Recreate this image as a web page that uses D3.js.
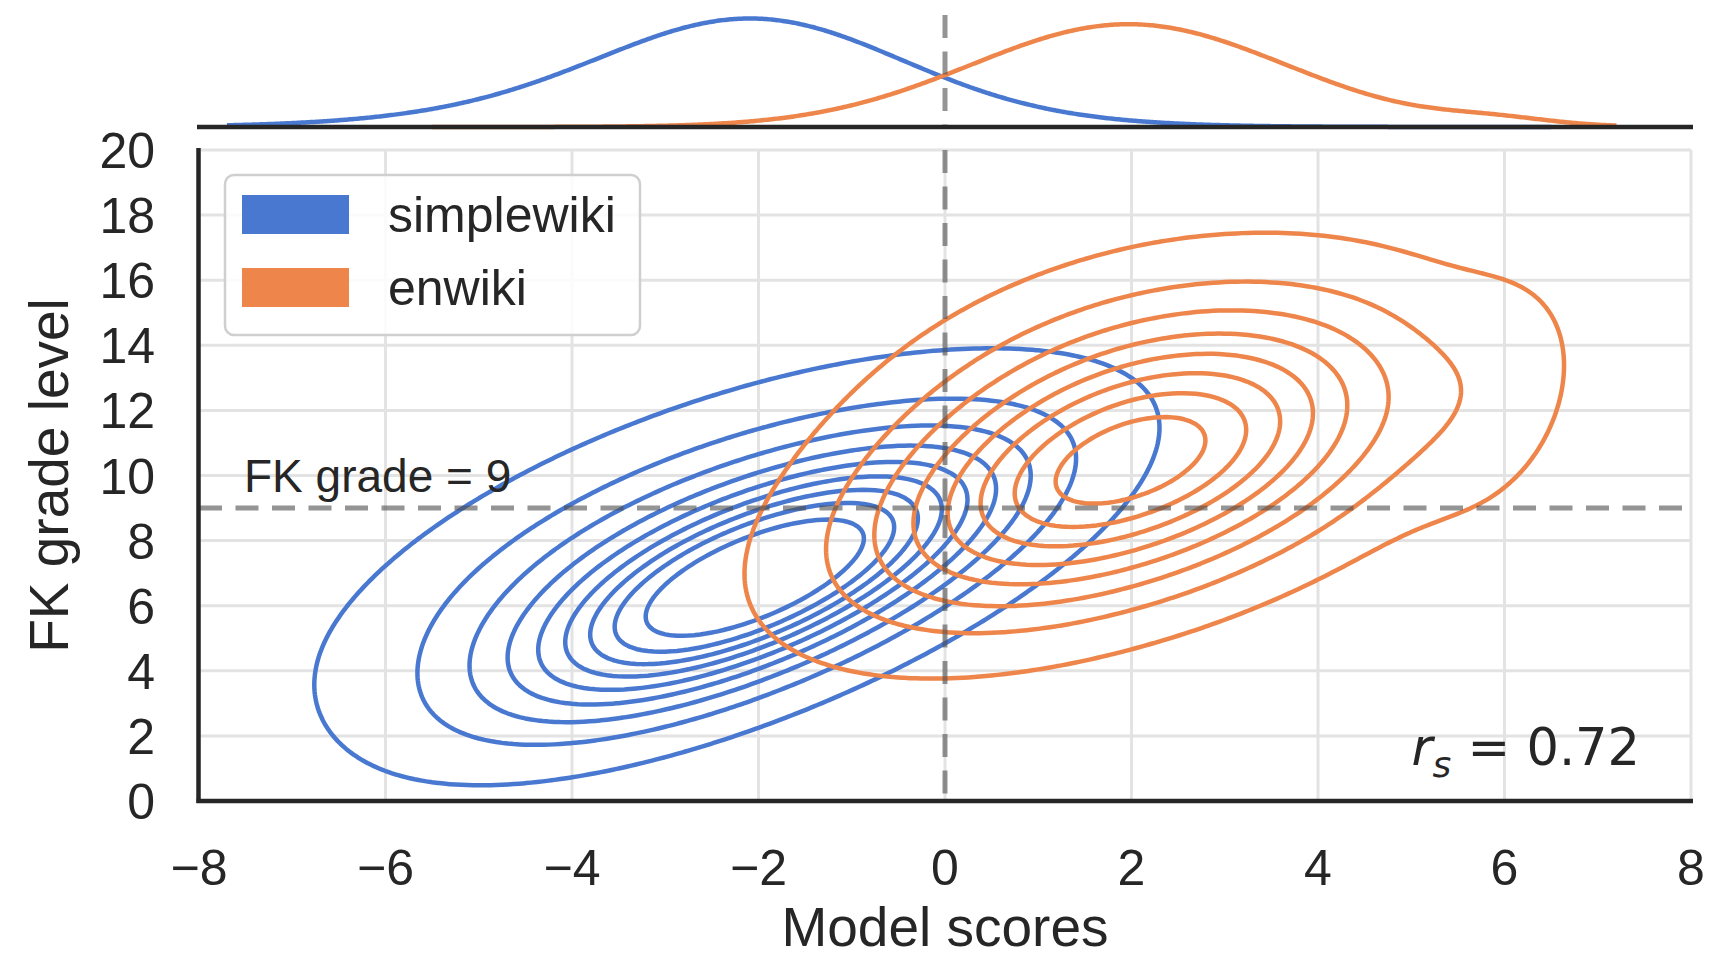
<!DOCTYPE html>
<html><head><meta charset="utf-8">
<script src="https://cdn.jsdelivr.net/npm/d3@7"></script>
<style>body{margin:0;background:#fff}svg{display:block}</style>
</head><body>
<svg id="c" width="1710" height="958"></svg>
<script>
// ---------------- data ----------------
const groups = ["simplewiki", "enwiki"];
const groupColors = ["#4878D0", "#EE854A"];
const groupShare = [0.515, 0.485];
// bivariate normal components: [weight, mean score, mean FK grade, sd score, sd FK grade, correlation]
const simplewikiComponents = [
  [0.55, -2.0, 6.7, 1.5, 2.3, 0.70],
  [0.45, -2.4, 7.6, 2.1, 3.0, 0.60]
];
const enwikiComponents = [
  [0.60, 1.7, 9.8, 1.65, 2.6, 0.50],
  [0.38, 2.4, 11.8, 1.65, 2.7, 0.25],
  [0.02, 5.9, 12.3, 0.6, 2.5, 0.30]
];
// support of the marginal curves (score range)
const simplewikiSupport = [-7.7, 6.5];
const enwikiSupport = [-5.5, 7.2];
// iso-proportion contour levels
const isoLevels = [0.05, 0.156, 0.261, 0.367, 0.472, 0.578, 0.683, 0.789, 0.894];
const xTicks = [-8, -6, -4, -2, 0, 2, 4, 6, 8];
const yTicks = [0, 2, 4, 6, 8, 10, 12, 14, 16, 18, 20];
const fkGradeLine = 9;
const scoreLine = 0;
const spearman = "0.72";
const xLabel = "Model scores";
const yLabel = "FK grade level";
const fkLabel = "FK grade = 9";

// ---------------- layout ----------------
const svg = d3.select("#c");
const x = d3.scaleLinear().domain([-8, 8]).range([199, 1691]);
const y = d3.scaleLinear().domain([0, 20]).range([801, 150]);
const ym = d3.scaleLinear().range([127, 18.5]);
const textColor = "#262626";
const fontSans = "'Liberation Sans', Arial, Helvetica, sans-serif";

// ---------------- density helpers ----------------
function dens2(comps, px, py) {
  let s = 0;
  for (const [w, mx, my, sx, sy, r] of comps) {
    const dx = (px - mx) / sx, dy = (py - my) / sy;
    const q = (dx * dx - 2 * r * dx * dy + dy * dy) / (1 - r * r);
    s += w * Math.exp(-q / 2) / (2 * Math.PI * sx * sy * Math.sqrt(1 - r * r));
  }
  return s;
}
function dens1(comps, px) {
  let s = 0;
  for (const [w, mx, , sx] of comps) {
    const d = (px - mx) / sx;
    s += w * Math.exp(-d * d / 2) / (Math.sqrt(2 * Math.PI) * sx);
  }
  return s;
}

// ---------------- grid ----------------
const gx0 = -10, gx1 = 10, gy0 = -4, gy1 = 24, nx = 321, ny = 321;
const gdx = (gx1 - gx0) / (nx - 1), gdy = (gy1 - gy0) / (ny - 1);
const compsList = [simplewikiComponents, enwikiComponents];
const grids = compsList.map((comps, gi) => {
  const a = new Float64Array(nx * ny);
  for (let j = 0; j < ny; j++) {
    const py = gy0 + j * gdy;
    for (let i = 0; i < nx; i++) {
      a[i + j * nx] = groupShare[gi] * dens2(comps, gx0 + i * gdx, py);
    }
  }
  return a;
});
function quantileToLevel(arrs, props) {
  const vals = [];
  arrs.forEach(a => { for (const v of a) vals.push(v); });
  vals.sort((p, q) => q - p);
  const total = d3.sum(vals);
  const cum = new Float64Array(vals.length);
  let s = 0;
  for (let i = 0; i < vals.length; i++) { s += vals[i]; cum[i] = s / total; }
  return props.map(p => {
    const idx = d3.bisectLeft(cum, 1 - p);
    return vals[Math.min(idx, vals.length - 1)];
  });
}
const levels = quantileToLevel(grids, isoLevels).sort((a, b) => a - b);

// ---------------- grid lines ----------------
const gGrid = svg.append("g");
gGrid.selectAll("line.v").data(xTicks).join("line")
  .attr("x1", d => x(d)).attr("x2", d => x(d)).attr("y1", y(20)).attr("y2", y(0))
  .attr("stroke", "#e3e3e3").attr("stroke-width", 3);
gGrid.selectAll("line.h").data(yTicks).join("line")
  .attr("y1", d => y(d)).attr("y2", d => y(d)).attr("x1", x(-8)).attr("x2", x(8))
  .attr("stroke", "#e3e3e3").attr("stroke-width", 3);

// ---------------- contours ----------------
svg.append("clipPath").attr("id", "clipMain").append("rect")
  .attr("x", x(-8)).attr("y", y(20) - 2).attr("width", x(8) - x(-8)).attr("height", y(0) - y(20) + 2);
const proj = d3.geoTransform({
  point: function (px, py) {
    this.stream.point(x(gx0 + (px - 0.5) * gdx), y(gy0 + (py - 0.5) * gdy));
  }
});
const path = d3.geoPath(proj);
const contourGen = d3.contours().size([nx, ny]).thresholds(levels);
const gC = svg.append("g").attr("clip-path", "url(#clipMain)");
grids.forEach((a, gi) => {
  gC.append("g").selectAll("path").data(contourGen(a)).join("path")
    .attr("d", path).attr("fill", "none")
    .attr("stroke", groupColors[gi]).attr("stroke-width", 4.5)
    .attr("stroke-linejoin", "round");
});

// ---------------- marginal ----------------
const supports = [simplewikiSupport, enwikiSupport];
const margData = compsList.map((comps, gi) => {
  const [a, b] = supports[gi];
  return d3.range(a, b + 1e-9, 0.02).map(v => [v, groupShare[gi] * dens1(comps, v)]);
});
ym.domain([0, d3.max(margData.flat(), d => d[1])]);
const line = d3.line().x(d => x(d[0])).y(d => ym(d[1]));
margData.forEach((pts, gi) => {
  svg.append("path").attr("d", line(pts)).attr("fill", "none")
    .attr("stroke", groupColors[gi]).attr("stroke-width", 4.5);
});

// ---------------- reference lines ----------------
const dashStyle = sel => sel.attr("stroke", "#4d4d4d").attr("stroke-opacity", 0.6)
  .attr("stroke-width", 5).attr("stroke-dasharray", "23,13.5");
dashStyle(svg.append("line").attr("x1", x(-8)).attr("x2", x(8))
  .attr("y1", y(fkGradeLine)).attr("y2", y(fkGradeLine)));
dashStyle(svg.append("line").attr("x1", x(scoreLine)).attr("x2", x(scoreLine))
  .attr("y1", y(20)).attr("y2", y(0)));
dashStyle(svg.append("line").attr("x1", x(scoreLine)).attr("x2", x(scoreLine))
  .attr("y1", 15).attr("y2", ym(0)));

// ---------------- spines ----------------
svg.append("line").attr("x1", 197).attr("x2", 1693).attr("y1", ym(0)).attr("y2", ym(0))
  .attr("stroke", textColor).attr("stroke-width", 4.5);
svg.append("line").attr("x1", x(-8) - 0.5).attr("x2", x(-8) - 0.5).attr("y1", 148).attr("y2", y(0) + 2)
  .attr("stroke", textColor).attr("stroke-width", 4.5);
svg.append("line").attr("x1", x(-8) - 2.5).attr("x2", 1693).attr("y1", y(0)).attr("y2", y(0))
  .attr("stroke", textColor).attr("stroke-width", 4.5);

// ---------------- ticks ----------------
const fmt = d => (d < 0 ? "\u2212" + Math.abs(d) : String(d));
svg.append("g").selectAll("text").data(xTicks).join("text")
  .attr("x", d => x(d)).attr("y", 885).attr("text-anchor", "middle")
  .attr("font-family", fontSans).attr("font-size", 50).attr("fill", textColor)
  .text(fmt);
svg.append("g").selectAll("text").data(yTicks).join("text")
  .attr("x", 155).attr("y", d => y(d)).attr("dy", "0.36em").attr("text-anchor", "end")
  .attr("font-family", fontSans).attr("font-size", 50).attr("fill", textColor)
  .text(fmt);

// axis labels
svg.append("text").attr("x", x(0)).attr("y", 946).attr("text-anchor", "middle")
  .attr("font-family", fontSans).attr("font-size", 55).attr("fill", textColor).text(xLabel);
svg.append("text").attr("transform", `translate(68,${(y(0) + y(20)) / 2}) rotate(-90)`)
  .attr("text-anchor", "middle")
  .attr("font-family", fontSans).attr("font-size", 55).attr("fill", textColor).text(yLabel);

// FK grade annotation
svg.append("text").attr("x", 244).attr("y", 492)
  .attr("font-family", fontSans).attr("font-size", 46).attr("fill", textColor).text(fkLabel);

// r_s annotation
const rsT = svg.append("text").attr("x", 1640).attr("y", 765).attr("text-anchor", "end")
  .attr("font-family", "'DejaVu Sans', sans-serif").attr("font-size", 51).attr("fill", textColor);
rsT.append("tspan").attr("font-style", "italic").text("r");
rsT.append("tspan").attr("font-style", "italic").attr("font-size", 36).attr("dy", 12).text("s");
rsT.append("tspan").attr("dy", -12).text(" = " + spearman);

// ---------------- legend ----------------
const lg = svg.append("g");
lg.append("rect").attr("x", 225).attr("y", 175).attr("width", 415).attr("height", 160)
  .attr("rx", 9).attr("fill", "#fff").attr("fill-opacity", 0.85)
  .attr("stroke", "#cfcfcf").attr("stroke-width", 2.5);
groups.forEach((g, i) => {
  const top = 195 + i * 73;
  lg.append("rect").attr("x", 242).attr("y", top).attr("width", 107).attr("height", 39)
    .attr("fill", groupColors[i]);
  lg.append("text").attr("x", 388).attr("y", top + 37)
    .attr("font-family", fontSans).attr("font-size", 50).attr("fill", textColor).text(g);
});
</script>
</body></html>
